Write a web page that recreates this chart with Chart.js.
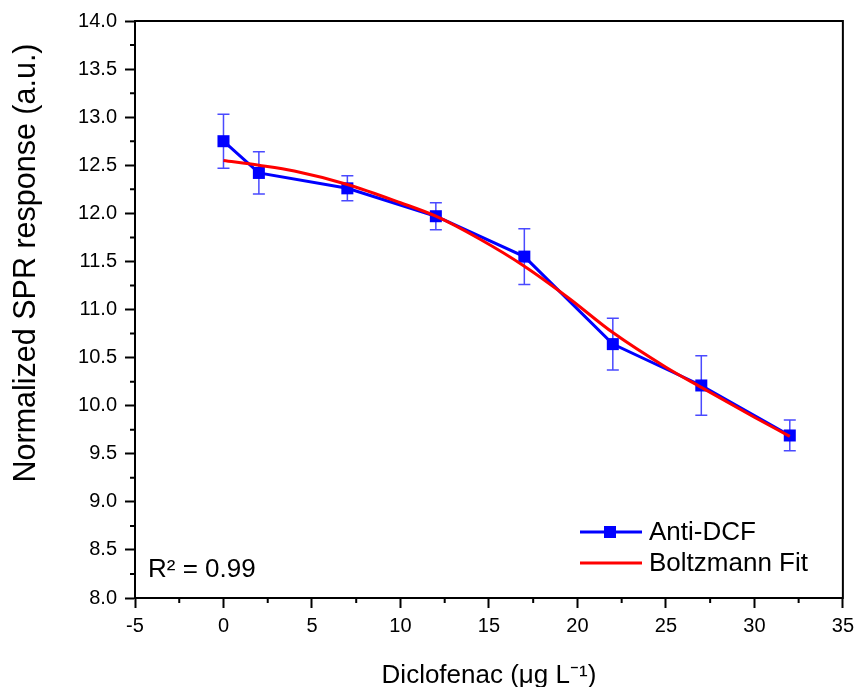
<!DOCTYPE html>
<html>
<head>
<meta charset="utf-8">
<script src="https://cdn.jsdelivr.net/npm/chart.js@4.4.1/dist/chart.umd.min.js"></script>
<style>
  html, body { margin: 0; padding: 0; background: #fff; }
  #wrap { width: 860px; height: 687px; }
</style>
</head>
<body>
<div id="wrap"><canvas id="spr-chart" width="860" height="687"></canvas></div>
<script>
// measured points (concentration vs normalized SPR response)
const concentrations = [0, 2, 7, 12, 17, 22, 27, 32];
const responses = [12.75, 12.42, 12.26, 11.97, 11.55, 10.64, 10.21, 9.69];
const responseErrors = [0.28, 0.22, 0.13, 0.14, 0.29, 0.27, 0.31, 0.16];

// Boltzmann fit curve
const fitX = [0, 2, 4, 7, 10, 12, 14.5, 17, 19.5, 22, 25, 27, 30, 32];
const fitY = [12.55, 12.50, 12.44, 12.30, 12.11, 11.97, 11.73, 11.45, 11.12, 10.76, 10.40, 10.19, 9.88, 9.68];

const xTicks = [-5, 0, 5, 10, 15, 20, 25, 30, 35];
const yTicks = [8.0, 8.5, 9.0, 9.5, 10.0, 10.5, 11.0, 11.5, 12.0, 12.5, 13.0, 13.5, 14.0];

const FONT = "'Liberation Sans', Arial, sans-serif";

document.addEventListener('DOMContentLoaded', function() {
    const ctx = document.getElementById('spr-chart').getContext('2d');

    // error bars, drawn before the lines
    const errorBars = {
        id: 'errorBars',
        beforeDatasetsDraw(chart) {
            const c = chart.ctx;
            const xs = chart.scales.x, ys = chart.scales.y;
            c.save();
            c.strokeStyle = '#4a4aff';
            c.lineWidth = 1.5;
            concentrations.forEach(function(xv, i) {
                const px = xs.getPixelForValue(xv);
                const top = ys.getPixelForValue(responses[i] + responseErrors[i]);
                const bot = ys.getPixelForValue(responses[i] - responseErrors[i]);
                c.beginPath();
                c.moveTo(px, top); c.lineTo(px, bot);
                c.moveTo(px - 6, top); c.lineTo(px + 6, top);
                c.moveTo(px - 6, bot); c.lineTo(px + 6, bot);
                c.stroke();
            });
            c.restore();
        }
    };

    // frame, minor ticks, y title, legend and R² label
    const decorations = {
        id: 'decorations',
        afterDraw(chart) {
            const c = chart.ctx;
            const a = chart.chartArea;
            const xs = chart.scales.x, ys = chart.scales.y;
            c.save();
            c.strokeStyle = '#000';
            c.lineWidth = 2;
            c.strokeRect(a.left, a.top, a.right - a.left, a.bottom - a.top);

            // minor ticks
            c.beginPath();
            for (let i = 0; i < xTicks.length - 1; i++) {
                const px = xs.getPixelForValue(xTicks[i] + 2.5);
                c.moveTo(px, a.bottom); c.lineTo(px, a.bottom + 5);
            }
            for (let i = 0; i < yTicks.length - 1; i++) {
                const py = ys.getPixelForValue(yTicks[i] + 0.25);
                c.moveTo(a.left, py); c.lineTo(a.left - 5, py);
            }
            c.stroke();

            // y axis title (sits a bit above the centre of the axis)
            c.save();
            c.translate(27, 263);
            c.rotate(-Math.PI / 2);
            c.font = '30.5px ' + FONT;
            c.fillStyle = '#000';
            c.textAlign = 'center';
            c.textBaseline = 'middle';
            c.fillText('Normalized SPR response (a.u.)', 0, 0);
            c.restore();

            // legend
            c.font = '26px ' + FONT;
            c.textBaseline = 'middle';
            c.lineWidth = 3;
            c.strokeStyle = '#0000ff';
            c.beginPath(); c.moveTo(580, 532); c.lineTo(642, 532); c.stroke();
            c.fillStyle = '#0000ff';
            c.fillRect(604, 526, 12, 12);
            c.strokeStyle = '#ff0000';
            c.beginPath(); c.moveTo(580, 563); c.lineTo(642, 563); c.stroke();
            c.fillStyle = '#000';
            c.fillText('Anti-DCF', 649, 533);
            c.fillText('Boltzmann Fit', 649, 564);

            c.textBaseline = 'alphabetic';
            c.fillText('R² = 0.99', 148, 577);
            c.restore();
        }
    };

    const chart = new Chart(ctx, {
        type: 'line',
        data: {
            datasets: [
                {
                    label: 'Boltzmann Fit',
                    data: fitX.map((x, i) => ({ x: x, y: fitY[i] })),
                    borderColor: '#ff0000',
                    borderWidth: 3,
                    pointRadius: 0,
                    cubicInterpolationMode: 'monotone',
                    order: 0
                },
                {
                    label: 'Anti-DCF',
                    data: concentrations.map((x, i) => ({ x: x, y: responses[i] })),
                    borderColor: '#0000ff',
                    backgroundColor: '#0000ff',
                    borderWidth: 3,
                    pointStyle: 'rect',
                    pointRadius: 8.5,
                    pointBorderWidth: 0,
                    tension: 0,
                    order: 1
                }
            ]
        },
        plugins: [errorBars, decorations],
        options: {
            responsive: false,
            animation: false,
            layout: { padding: { left: 0, right: 16, top: 21, bottom: 0 } },
            plugins: {
                legend: { display: false },
                tooltip: { enabled: false }
            },
            scales: {
                x: {
                    type: 'linear',
                    min: -5,
                    max: 35,
                    afterBuildTicks: function(scale) {
                        scale.ticks = xTicks.map(v => ({ value: v }));
                    },
                    afterFit: function(scale) { scale.height = 89; },
                    ticks: {
                        color: '#000',
                        padding: 6,
                        font: { family: FONT, size: 20 },
                        callback: v => String(v)
                    },
                    grid: {
                        drawOnChartArea: false,
                        tickLength: 10,
                        tickWidth: 2,
                        tickColor: '#000'
                    },
                    border: { color: '#000', width: 2 },
                    title: {
                        display: true,
                        text: 'Diclofenac (μg L⁻¹)',
                        color: '#000',
                        font: { family: FONT, size: 26, lineHeight: 0.8 },
                        padding: { top: 0, bottom: 1 }
                    }
                },
                y: {
                    type: 'linear',
                    min: 8,
                    max: 14,
                    afterBuildTicks: function(scale) {
                        scale.ticks = yTicks.map(v => ({ value: v }));
                    },
                    afterFit: function(scale) { scale.width = 135; },
                    ticks: {
                        color: '#000',
                        padding: 8,
                        font: { family: FONT, size: 20 },
                        callback: v => Number(v).toFixed(1)
                    },
                    grid: {
                        drawOnChartArea: false,
                        tickLength: 10,
                        tickWidth: 2,
                        tickColor: '#000'
                    },
                    border: { color: '#000', width: 2 }
                }
            }
        }
    });
});
</script>
</body>
</html>
